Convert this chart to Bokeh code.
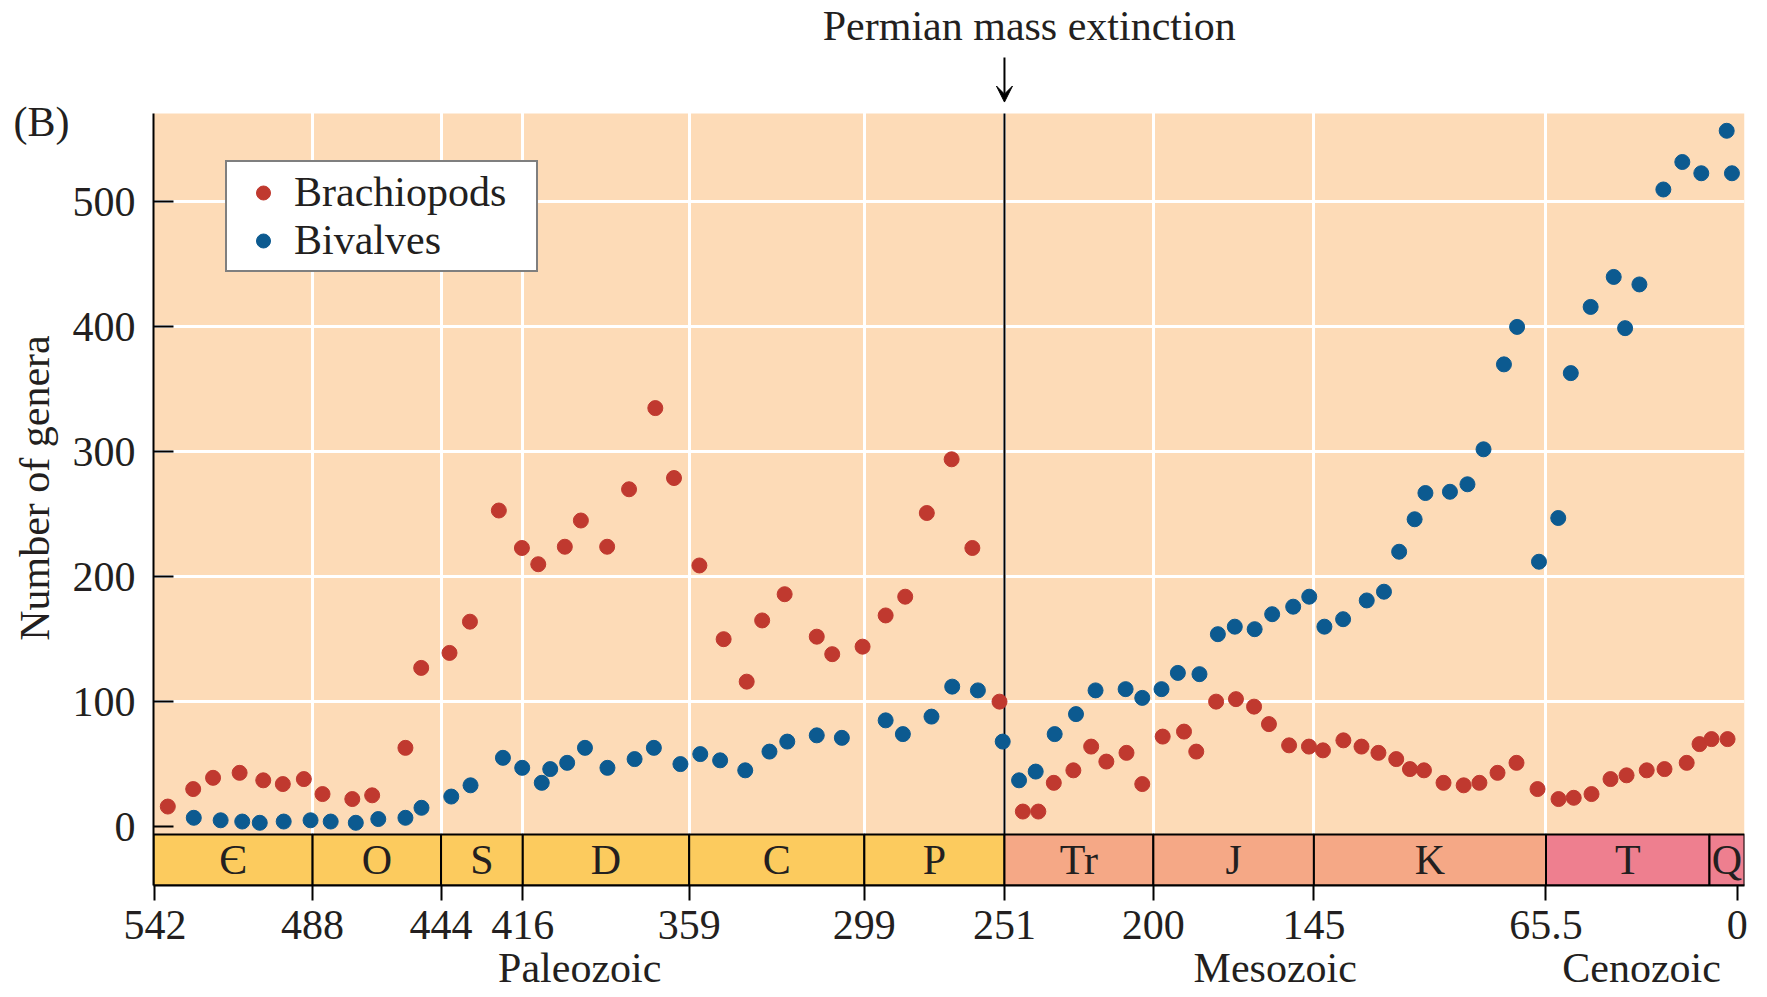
from bokeh.plotting import figure
from bokeh.models import Range1d, FixedTicker, Legend, LegendItem, Label, Arrow, VeeHead, LinearAxis
from bokeh.embed import file_html
from bokeh.resources import INLINE
from bokeh.core.properties import value

# ---------------- data ----------------
brach_age = [537.6, 528.9, 522.1, 513.0, 504.9, 498.2, 491.0, 484.6, 474.4, 467.6,
             456.2, 450.8, 441.1, 434.1, 424.2, 416.3, 410.7, 401.6, 396.1, 387.1,
             379.6, 370.6, 364.2, 355.5, 347.2, 339.3, 334.0, 326.3, 315.3, 310.0,
             299.6, 291.7, 285.0, 277.6, 269.1, 262.0, 252.7, 244.7, 239.4, 234.1,
             227.4, 221.3, 216.1, 209.2, 203.8, 196.8, 189.5, 185.3, 178.5, 171.7,
             165.5, 160.4, 153.5, 146.7, 141.9, 134.9, 128.7, 122.9, 116.8, 112.1,
             107.3, 100.6, 93.7, 88.3, 82.1, 75.6, 68.4, 61.2, 56.0, 49.9,
             43.4, 37.9, 31.0, 24.9, 17.3, 12.9, 8.8, 3.3]
brach_genera = [16, 30, 39, 43, 37, 34, 38, 26, 22, 25,
                63, 127, 139, 164, 253, 223, 210, 224, 245, 224,
                270, 335, 279, 209, 150, 116, 165, 186, 152, 138,
                144, 169, 184, 251, 294, 223, 100, 12, 12, 35,
                45, 64, 52, 59, 34, 72, 76, 60, 100, 102,
                96, 82, 65, 64, 61, 69, 64, 59, 54, 46,
                45, 35, 33, 35, 43, 51, 30, 22, 23, 26,
                38, 41, 45, 46, 51, 66, 70, 70]

biv_age = [528.7, 519.5, 512.1, 506.1, 497.9, 488.7, 481.8, 473.2, 465.5, 456.2,
           450.7, 440.5, 433.9, 422.8, 416.2, 409.5, 406.6, 400.8, 394.7, 387.0,
           377.7, 371.1, 362.0, 355.2, 348.4, 339.8, 331.5, 325.4, 315.3, 306.7,
           291.7, 285.8, 276.0, 268.9, 260.1, 251.6, 246.0, 240.3, 233.8, 226.5,
           219.8, 209.5, 203.8, 197.2, 191.6, 184.2, 177.9, 172.1, 165.3, 159.3,
           152.1, 146.6, 141.4, 135.0, 126.9, 121.0, 115.8, 110.5, 106.8, 98.4,
           92.4, 86.9, 79.9, 75.4, 67.9, 61.3, 57.0, 50.2, 42.3, 38.4,
           33.5, 25.3, 18.8, 12.3, 3.6, 1.8]
biv_genera = [7, 5, 4, 3, 4, 5, 4, 3, 6, 7,
              15, 24, 33, 55, 47, 35, 46, 51, 63, 47,
              54, 63, 50, 58, 53, 45, 60, 68, 73, 71,
              85, 74, 88, 112, 109, 68, 37, 44, 74, 90,
              109, 110, 103, 110, 123, 122, 154, 160, 158, 170,
              176, 184, 160, 166, 181, 188, 220, 246, 267, 268,
              274, 302, 370, 400, 212, 247, 363, 416, 440, 399,
              434, 510, 532, 523, 557, 523]

period_names = ["\u0404", "O", "S", "D", "C", "P", "Tr", "J", "K", "T", "Q"]
period_start = [542, 488, 444, 416, 359, 299, 251, 200, 145, 65.5, 9.5]
period_end = [488, 444, 416, 359, 299, 251, 200, 145, 65.5, 9.5, 0]
period_era = ["Paleozoic"] * 6 + ["Mesozoic"] * 3 + ["Cenozoic"] * 2

era_names = ["Paleozoic", "Mesozoic", "Cenozoic"]
era_start = [542, 251, 65.5]
era_end = [251, 65.5, 0]

x_ticks = [542, 488, 444, 416, 359, 299, 251, 200, 145, 65.5, 0]
x_tick_labels = ["542", "488", "444", "416", "359", "299", "251", "200", "145", "65.5", "0"]
y_ticks = [0, 100, 200, 300, 400, 500]
extinction_age = 251

# ---------------- styles / layout ----------------
FONT = "Liberation Serif"
FS = "42px"
TXT = "#231f20"
PEACH = "#FDDBB7"
ERA_COLORS = {"Paleozoic": "#FCCB5E", "Mesozoic": "#F5A886", "Cenozoic": "#EE7F8F"}
RED = "#C0392F"
BLUE = "#0C5A90"

X_START, X_END = 542.5, -2.5
Y_START, Y_END = -47.2, 661.3
PLOT_TOP = 570.9
BAND_TOP = -6.4
YLABEL_POS = 271      # vertical centre of the y-axis title
PANEL_POS = 564       # vertical position of the "(B)" panel tag

p = figure(width=1766, height=996, output_backend="svg", toolbar_location=None,
           x_range=Range1d(X_START, X_END), y_range=Range1d(Y_START, Y_END),
           min_border_left=153, min_border_right=22, min_border_top=0, min_border_bottom=111)
p.background_fill_color = "white"
p.border_fill_color = "white"
p.outline_line_color = None

# plot area background
p.quad(left=[X_START], right=[X_END], bottom=[BAND_TOP], top=[PLOT_TOP],
       fill_color=PEACH, line_color=None, level="image")

# grids
p.xgrid.ticker = FixedTicker(ticks=x_ticks[1:-1])
p.ygrid.ticker = FixedTicker(ticks=y_ticks[1:])
for g in (p.xgrid, p.ygrid):
    g.grid_line_color = "white"
    g.grid_line_width = 3

# extinction line
p.segment(x0=[extinction_age], x1=[extinction_age], y0=[BAND_TOP], y1=[PLOT_TOP],
          line_color="black", line_width=2)

# period band
lefts = [X_START] + period_start[1:]
rights = period_end[:-1] + [X_END]
p.quad(left=lefts, right=rights, bottom=[Y_START] * len(lefts), top=[BAND_TOP] * len(lefts),
       fill_color=[ERA_COLORS[e] for e in period_era], line_color="black", line_width=2)
p.text(x=[(l + r) / 2 for l, r in zip(lefts, rights)], y=[(Y_START + BAND_TOP) / 2] * len(lefts),
       text=period_names, text_align="center", text_baseline="middle",
       text_font=value(FONT), text_font_size=FS, text_color=TXT)

# data
r1 = p.scatter(brach_age, brach_genera, size=15, fill_color=RED, line_color=RED)
r2 = p.scatter(biv_age, biv_genera, size=15, fill_color=BLUE, line_color=BLUE)

legend = Legend(items=[LegendItem(label="Brachiopods", renderers=[r1]),
                       LegendItem(label="Bivalves", renderers=[r2])],
                location=(72, 613), margin=0, padding=6, spacing=0,
                glyph_width=60, glyph_height=35, label_standoff=1,
                label_width=236, label_height=44,
                label_text_font=FONT, label_text_font_size=FS, label_text_color=TXT,
                border_line_color="black", border_line_width=2,
                background_fill_color="white", background_fill_alpha=1)
p.add_layout(legend)


def style_text(ax):
    ax.major_label_text_font = FONT
    ax.major_label_text_font_size = FS
    ax.major_label_text_color = TXT


# x axis (ages)
xa = p.xaxis[0]
xa.ticker = FixedTicker(ticks=x_ticks)
xa.major_label_overrides = {t: s for t, s in zip(x_ticks, x_tick_labels)}
xa.axis_line_color = "black"
xa.axis_line_width = 2
xa.major_tick_line_color = "black"
xa.major_tick_line_width = 2
xa.major_tick_in = 0
xa.major_tick_out = 15
xa.minor_tick_line_color = None
xa.major_label_standoff = 10
style_text(xa)

# era names as a second bottom axis
era_mid = [(s + e) / 2 for s, e in zip(era_start, era_end)]
era_axis = LinearAxis(ticker=FixedTicker(ticks=era_mid),
                      major_label_overrides={m: n for m, n in zip(era_mid, era_names)},
                      axis_line_color=None, major_tick_line_color=None,
                      minor_tick_line_color=None, major_label_standoff=-3)
style_text(era_axis)
p.add_layout(era_axis, "below")

# y axis (genera)
ya = p.yaxis[0]
ya.ticker = FixedTicker(ticks=y_ticks)
ya.bounds = (Y_START, PLOT_TOP)
ya.axis_line_color = "black"
ya.axis_line_width = 2
ya.major_tick_line_color = "black"
ya.major_tick_line_width = 2
ya.major_tick_in = 20
ya.major_tick_out = 0
ya.minor_tick_line_color = None
ya.major_label_standoff = 18
style_text(ya)

# y-axis title placed as its own axis so it can sit at the reference height
ylab_axis = LinearAxis(ticker=FixedTicker(ticks=[YLABEL_POS]),
                       major_label_overrides={YLABEL_POS: "Number of genera"},
                       major_label_orientation="vertical",
                       axis_line_color=None, major_tick_line_color=None,
                       minor_tick_line_color=None, major_label_standoff=5)
style_text(ylab_axis)
p.add_layout(ylab_axis, "left")

# "(B)" panel tag
tag_axis = LinearAxis(ticker=FixedTicker(ticks=[PANEL_POS]),
                      major_label_overrides={PANEL_POS: "(B)"},
                      axis_line_color=None, major_tick_line_color=None,
                      minor_tick_line_color=None, major_label_standoff=-66)
style_text(tag_axis)
p.add_layout(tag_axis, "left")

# annotations
p.add_layout(Arrow(end=VeeHead(size=16, fill_color="black", line_color="black"),
                   x_start=extinction_age, y_start=615.7, x_end=extinction_age, y_end=580.0,
                   line_color="black", line_width=2))
p.add_layout(Label(x=extinction_age, y=641, x_offset=30, text="Permian mass  extinction",
                   text_align="center", text_baseline="middle",
                   text_font=FONT, text_font_size=FS, text_color=TXT))

open("out.html", "w").write(file_html(p, INLINE))
